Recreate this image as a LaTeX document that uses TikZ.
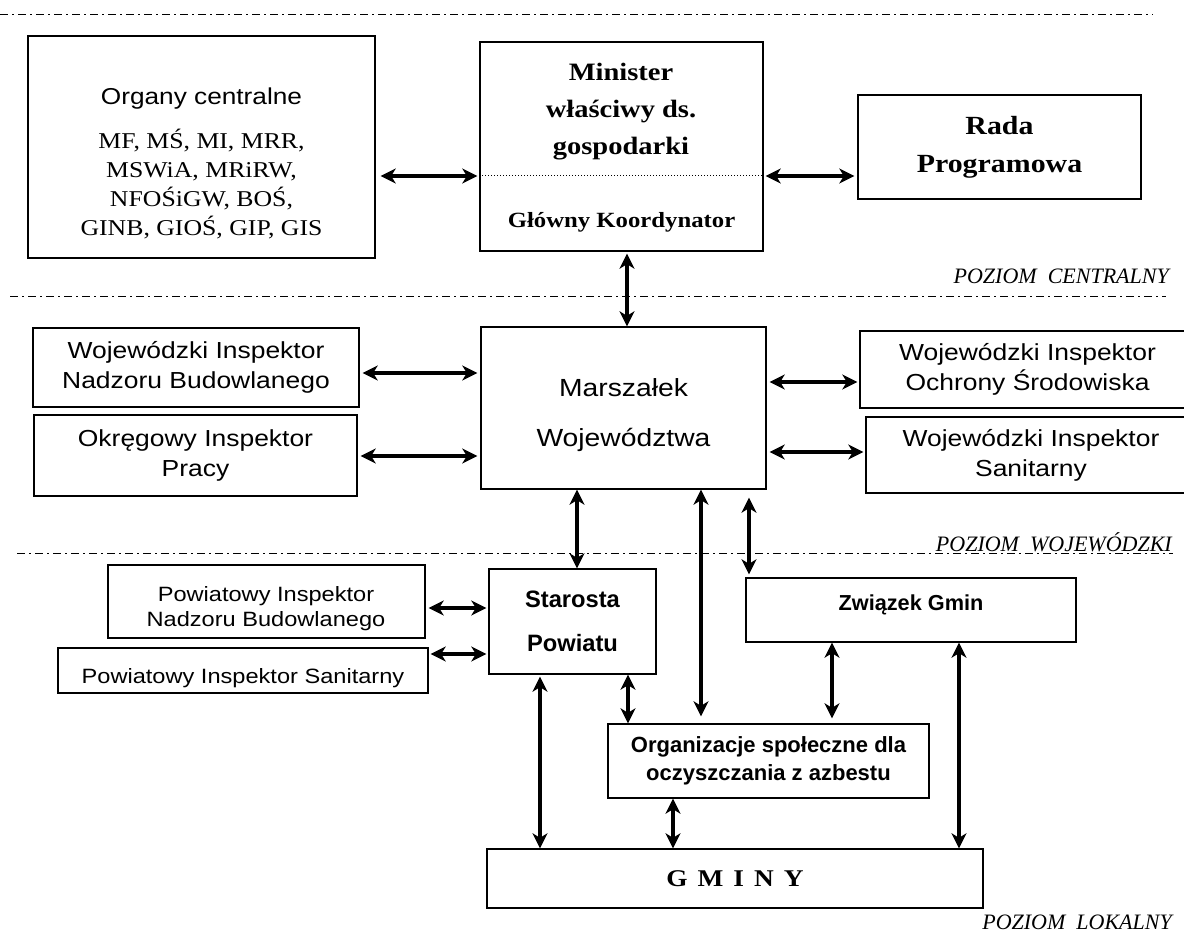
\documentclass[tikz,border=0pt]{standalone}
\usepackage{fontspec}
\setmainfont{Liberation Serif}
\newfontfamily\widesans{Liberation Sans}[FakeStretch=1.14]
\newfontfamily\wideserif{Liberation Serif}[FakeStretch=1.14]
\newfontfamily\plainsans{Liberation Sans}
\usetikzlibrary{arrows.meta}

\tikzset{
  box/.style={draw, line width=1.4pt, inner sep=0pt, align=center},
  arr/.style={<->, line width=3.1pt},
  sepline/.style={line width=1pt, dash pattern=on 8pt off 4pt on 2pt off 4pt},
  sepname/.style={anchor=east, inner sep=0pt, font=\fontsize{22}{26}\selectfont\itshape},
  insp/.style={font=\widesans\fontsize{23.2}{30}\selectfont}
}

\begin{document}
\begin{tikzpicture}[x=1pt, y=-1pt, >={Stealth[length=15pt,width=15pt,inset=4.5pt]}]
\clip (0,0) rectangle (1184,933);

% poziomy
\draw[sepline] (0,15) -- (1153,15);
\draw[sepline] (10,297) -- (1166,297);
\draw[sepline] (17,553) -- (1173,553);
\node[sepname] (pc) at (1169,276) {POZIOM\ \ CENTRALNY};
\node[sepname] (pw) at (1172,542) {POZIOM\ \ WOJEWÓDZKI};
\node[sepname] (pl) at (1172,922) {POZIOM\ \ LOKALNY};

% poziom centralny
\node[box, minimum width=347, minimum height=222] (orgc) at (201.5,147) {};
\node[font=\widesans\fontsize{23}{27}\selectfont] (orgct) at (201.5,99) {Organy centralne};
\node[align=center, font=\wideserif\fontsize{22.6}{29}\selectfont] (orgcl) at (201.5,184)
  {MF, MŚ, MI, MRR,\\MSWiA, MRiRW,\\NFOŚiGW, BOŚ,\\GINB, GIOŚ, GIP, GIS};

\node[box, minimum width=283, minimum height=209] (minister) at (621.5,146.5) {};
\coordinate (dotl) at (minister.west |- 0,176);
\coordinate (dotr) at (minister.east |- 0,176);
\draw[dotted, line width=1pt] (dotl) -- (dotr);
\node[align=center, font=\wideserif\bfseries\fontsize{25}{37}\selectfont] (mint) at (621,112)
  {Minister\\właściwy ds.\\gospodarki};
\node[font=\wideserif\bfseries\fontsize{21.7}{26}\selectfont] (koord) at (621.5,222) {Główny Koordynator};

\node[box, minimum width=283, minimum height=104, font=\wideserif\bfseries\fontsize{26.2}{38}\selectfont]
  (rada) at (999.5,147) {Rada\\Programowa};

% poziom wojewodzki
\node[box, minimum width=285, minimum height=162] (marsz) at (623.5,408) {};
\node[align=center, font=\widesans\fontsize{24.8}{50}\selectfont] (marszt) at (623.5,415)
  {Marszałek\\Województwa};
\node[box, insp, minimum width=326, minimum height=79] (winb) at (196,367.5) {Wojewódzki Inspektor\\Nadzoru Budowlanego};
\node[box, insp, minimum width=323, minimum height=81] (oip) at (195.5,455.5) {Okręgowy Inspektor\\Pracy};
\node[box, insp, minimum width=335, minimum height=77] (wios) at (1027.5,369.5) {Wojewódzki Inspektor\\Ochrony Środowiska};
\node[box, insp, minimum width=330, minimum height=76] (wis) at (1031,455) {Wojewódzki Inspektor\\Sanitarny};

% poziom lokalny
\node[box, minimum width=167, minimum height=105, font=\plainsans\bfseries\fontsize{23.7}{44}\selectfont]
  (starosta) at (572.5,621.5) {Starosta\\Powiatu};
\node[box, minimum width=317, minimum height=73] (pinb) at (266.5,601.5) {};
\node[align=center, font=\widesans\fontsize{20.7}{25}\selectfont] (pinbt) at (266,609)
  {Powiatowy Inspektor\\Nadzoru Budowlanego};
\node[box, minimum width=370, minimum height=45] (pis) at (243,670.5) {};
\node[font=\widesans\fontsize{20.7}{25}\selectfont] (pist) at (243,678) {Powiatowy Inspektor Sanitarny};
\node[box, minimum width=330, minimum height=64] (zwiazek) at (911,610) {};
\node[font=\plainsans\bfseries\fontsize{21.7}{26}\selectfont] (zwiazekt) at (911,605) {Związek Gmin};
\node[box, minimum width=321, minimum height=74, font=\plainsans\bfseries\fontsize{22}{28}\selectfont]
  (organiz) at (768.5,761) {Organizacje społeczne dla\\oczyszczania z azbestu};
\node[box, minimum width=496, minimum height=59, font=\wideserif\bfseries\fontsize{24}{28}\selectfont]
  (gminy) at (735,878.5) {\spaceskip=10pt G M I N Y};

% strzalki
\draw[arr, shorten <=5pt, shorten >=2pt] (orgc.east |- dotl) -- (dotl);
\draw[arr, shorten <=2pt, shorten >=3pt] (dotr) -- (rada.west |- dotr);
\draw[arr, shorten <=2pt] (minister.south -| 627,0) -- (marsz.north -| 627,0);
\draw[arr, shorten <=3pt, shorten >=3pt] (winb.east |- 0,373) -- (marsz.west |- 0,373);
\draw[arr, shorten <=3pt, shorten >=3pt] (oip.east |- 0,456) -- (marsz.west |- 0,456);
\draw[arr, shorten <=3pt, shorten >=2pt] (marsz.east |- 0,382) -- (wios.west |- 0,382);
\draw[arr, shorten <=3pt, shorten >=2pt] (marsz.east |- 0,452) -- (wis.west |- 0,452);
\draw[arr] (marsz.south -| 577,0) -- (starosta.north -| 577,0);
\draw[arr, shorten >=7pt] (marsz.south -| 701,0) -- (organiz.north -| 701,0);
\draw[arr, shorten <=8pt, shorten >=3pt] (marsz.south -| 749,0) -- (zwiazek.north -| 749,0);
\draw[arr, shorten <=3pt, shorten >=2pt] (pinb.east |- 0,608) -- (starosta.west |- 0,608);
\draw[arr, shorten <=2pt, shorten >=2pt] (pis.east |- 0,654) -- (starosta.west |- 0,654);
\draw[arr, shorten <=2pt] (starosta.south -| 540,0) -- (gminy.north -| 540,0);
\draw[arr] (starosta.south -| 628,0) -- (organiz.north -| 628,0);
\draw[arr] (organiz.south -| 673,0) -- (gminy.north -| 673,0);
\draw[arr, shorten >=5pt] (zwiazek.south -| 832,0) -- (organiz.north -| 832,0);
\draw[arr] (zwiazek.south -| 959,0) -- (gminy.north -| 959,0);
\end{tikzpicture}
\end{document}
